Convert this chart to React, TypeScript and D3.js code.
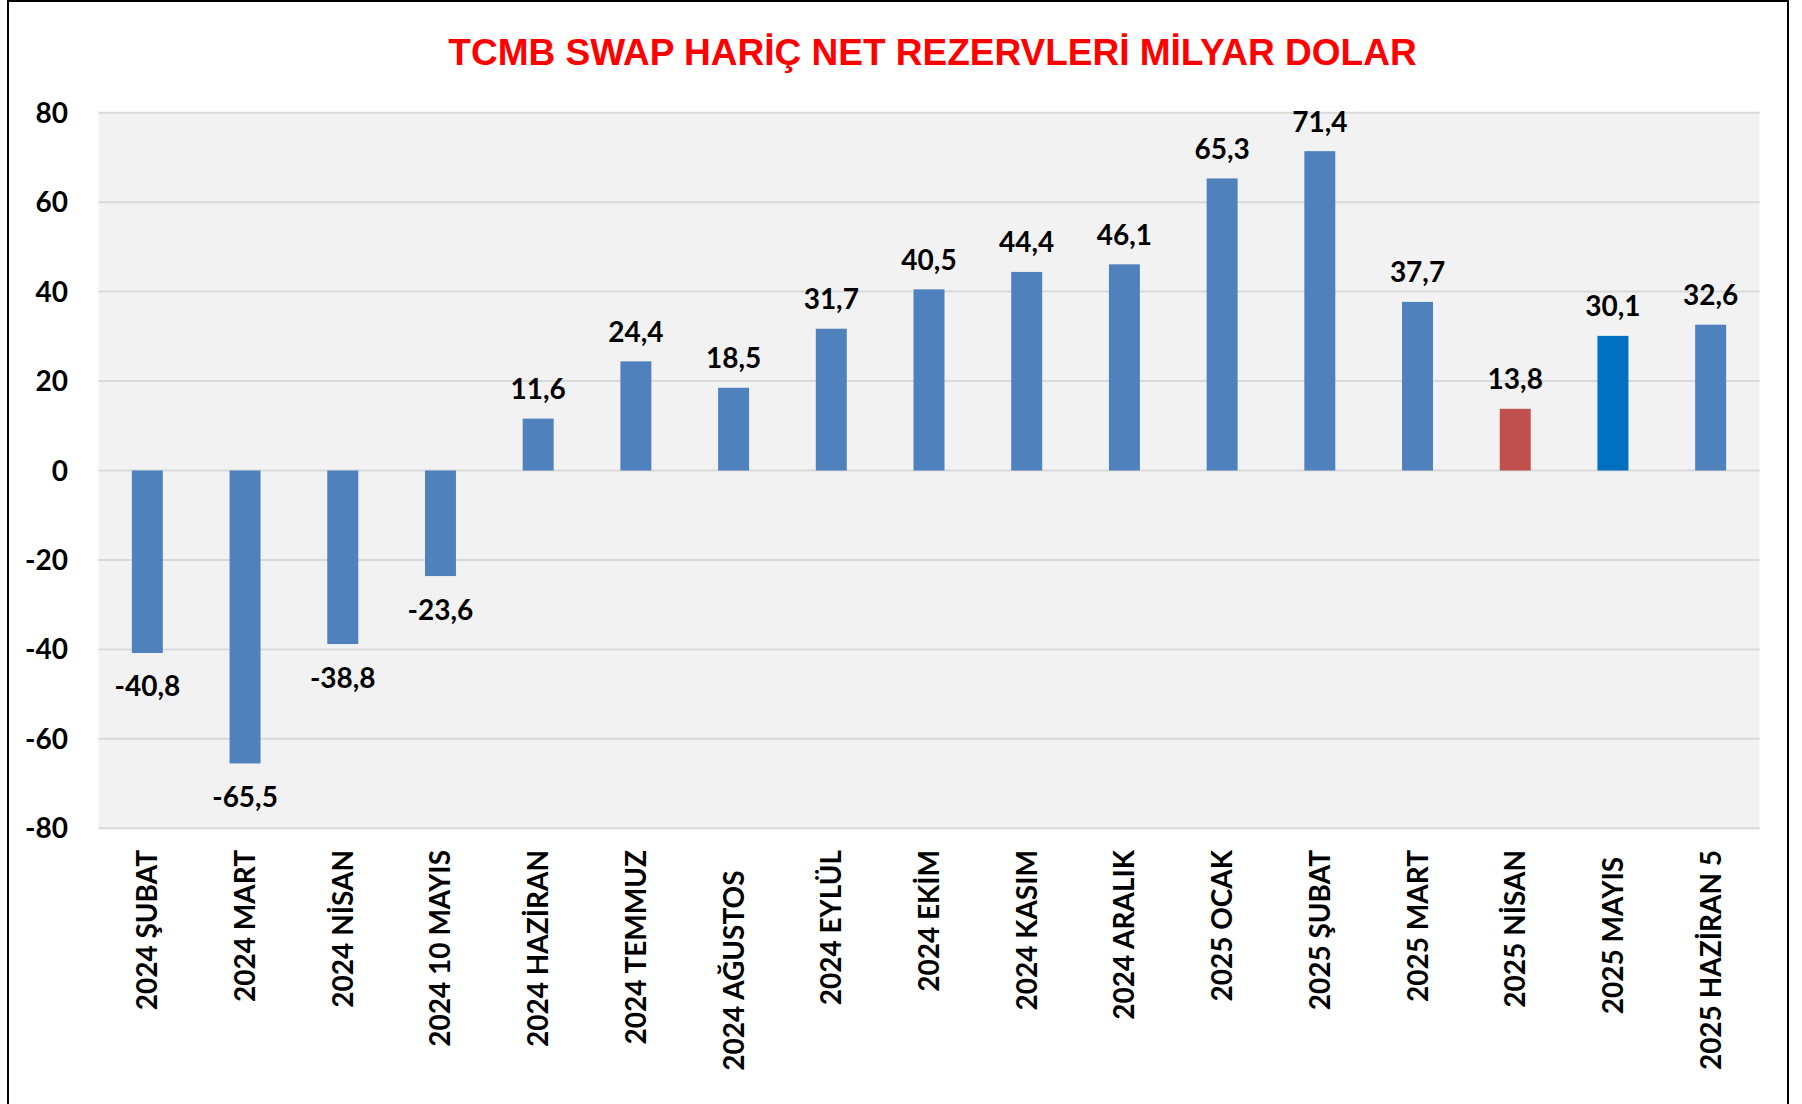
import React from "react";
import * as d3 from "d3";

const title = "TCMB SWAP HARİÇ NET REZERVLERİ MİLYAR DOLAR";

const categories = [
  "2024 ŞUBAT",
  "2024 MART",
  "2024 NİSAN",
  "2024 10 MAYIS",
  "2024 HAZİRAN",
  "2024 TEMMUZ",
  "2024 AĞUSTOS   ",
  "2024 EYLÜL",
  "2024 EKİM",
  "2024 KASIM",
  "2024 ARALIK",
  "2025 OCAK",
  "2025 ŞUBAT",
  "2025 MART",
  "2025 NİSAN",
  "2025 MAYIS ",
  "2025 HAZİRAN 5",
];

const values = [
  -40.8, -65.5, -38.8, -23.6, 11.6, 24.4, 18.5, 31.7, 40.5, 44.4, 46.1, 65.3,
  71.4, 37.7, 13.8, 30.1, 32.6,
];

const yTicks = [80, 60, 40, 20, 0, -20, -40, -60, -80];

const W = 1802;
const H = 1104;

const plot = { left: 98.5, right: 1759.5, top: 112.7, bottom: 828.3 };

const barColor = (i: number) =>
  i === 14 ? "#C0504D" : i === 15 ? "#0070C0" : "#4F81BD";

const numFont = "Lato, 'Open Sans', sans-serif";

export default function App() {
  const x = d3
    .scaleBand<string>()
    .domain(categories)
    .range([plot.left, plot.right])
    .padding(0);
  const y = d3.scaleLinear().domain([-80, 80]).range([plot.bottom, plot.top]);
  const barW = x.bandwidth() * 0.317;
  const fmt = (v: number) => v.toFixed(1).replace(".", ",");

  return (
    <svg
      width={W}
      height={H}
      style={{ position: "absolute", left: 0, top: 0, background: "#fff" }}
    >
      <rect x={0} y={0} width={W} height={H} fill="#ffffff" />
      <rect
        x={plot.left}
        y={plot.top}
        width={plot.right - plot.left}
        height={plot.bottom - plot.top}
        fill="#F2F2F2"
      />
      {yTicks.map((t) => (
        <line
          key={"g" + t}
          x1={plot.left}
          x2={plot.right}
          y1={y(t)}
          y2={y(t)}
          stroke="#D9D9D9"
          strokeWidth={2}
        />
      ))}
      {yTicks.map((t) => (
        <text
          key={"t" + t}
          x={68}
          y={y(t)}
          dy={10}
          textAnchor="end"
          fontFamily={numFont}
          fontWeight={700}
          fontSize={28}
          fill="#000"
        >
          {t}
        </text>
      ))}
      {categories.map((c, i) => {
        const v = values[i];
        const cx = (x(c) as number) + x.bandwidth() / 2;
        const y0 = y(0);
        const y1 = y(v);
        return (
          <g key={c}>
            <rect
              x={cx - barW / 2}
              y={Math.min(y0, y1)}
              width={barW}
              height={Math.abs(y1 - y0)}
              fill={barColor(i)}
            />
            <text
              x={cx}
              y={v >= 0 ? y1 - 19.5 : y1 + 43.5}
              textAnchor="middle"
              fontFamily={numFont}
              fontWeight={700}
              fontSize={28}
              fill="#000"
            >
              {fmt(v)}
            </text>
            <text
              transform={`translate(${cx},850) rotate(-90)`}
              dy={10}
              textAnchor="end"
              fontFamily={numFont}
              fontWeight={700}
              fontSize={28}
              fill="#000"
              xmlSpace="preserve"
              style={{ whiteSpace: "pre" }}
            >
              {c}
            </text>
          </g>
        );
      })}
      <text
        x={932.5}
        y={65}
        textAnchor="middle"
        fontFamily="'Liberation Sans', Arial, sans-serif"
        fontWeight={700}
        fontSize={37}
        fill="#FF0000"
      >
        {title}
      </text>
      <rect
        x={8}
        y={1}
        width={1780}
        height={H + 20}
        fill="none"
        stroke="#000"
        strokeWidth={2}
      />
    </svg>
  );
}
